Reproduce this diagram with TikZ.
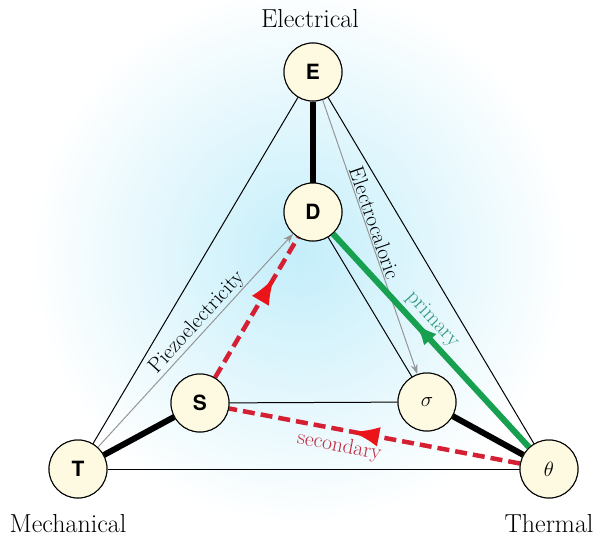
\documentclass[tikz,border=0pt]{standalone}
\usepackage{fontspec}
\newfontfamily\heros{TeX Gyre Heros}
\usetikzlibrary{arrows.meta,decorations.markings}
\definecolor{nodefill}{RGB}{253,250,225}
\definecolor{glow}{RGB}{196,238,250}
\definecolor{redarr}{RGB}{212,32,50}
\definecolor{redhead}{RGB}{235,20,25}
\definecolor{greenarr}{RGB}{22,160,80}
\definecolor{primcol}{RGB}{45,150,125}
\definecolor{seccol}{RGB}{190,40,60}
\definecolor{grayarr}{RGB}{150,150,150}
\begin{document}
\begin{tikzpicture}[x=1pt,y=-1pt,
  vnode/.style={circle,draw=black,line width=1pt,fill=nodefill,minimum size=58pt,inner sep=0pt,font=\heros\bfseries\fontsize{21}{24}\selectfont},
  mnode/.style={vnode,font=\fontsize{21}{24}\selectfont},
  region/.style={font=\fontsize{26}{30}\selectfont},
  edgelab/.style={font=\fontsize{21.5}{25}\selectfont,inner sep=1pt},
  thinline/.style={draw=black,line width=1pt},
  thickline/.style={draw=black,line width=6pt},
  grayarrow/.style={draw=grayarr,line width=1pt,-{Stealth[length=10pt,width=7pt]}},
  redmid/.style={postaction={decorate},decoration={markings,mark=at position #1 with {\arrow{Latex[length=28pt,width=20pt,color=redhead]}}}},
  greenmid/.style={postaction={decorate},decoration={markings,mark=at position #1 with {\arrow{Latex[length=22pt,width=17pt,color=greenarr]}}}},
  reddash/.style={draw=redarr,line width=4.5pt,dash pattern=on 12pt off 6pt},
  greenline/.style={draw=greenarr,line width=6pt}
]
\useasboundingbox (0,0) rectangle (595,538);
\begin{scope}
  \clip (0,0) rectangle (595,538);
  \shade[inner color=glow,outer color=white] (300,255) circle (270);
\end{scope}

% nodes
\node[vnode] (E) at (313,72) {E};
\node[vnode] (D) at (313,212) {D};
\node[vnode] (S) at (200,403) {S};
\node[vnode] (T) at (78,469) {T};
\node[mnode] (sig) at (427,402) {$\sigma$};
\node[mnode] (th) at (549,469) {$\theta$};

% region labels
\node[region] (lE) at (310,19) {Electrical};
\node[region] (lM) at (68,524) {Mechanical};
\node[region] (lT) at (549,524) {Thermal};

% outer triangle
\draw[thinline] (E) -- (T);
\draw[thinline] (E) -- (th);
\draw[thinline] (T) -- (th);
% inner triangle
\draw[thinline] (D) -- (sig);
\draw[thinline] (S) -- (sig);
% thick links
\draw[thickline] (E) -- (D);
\draw[thickline] (T) -- (S);
\draw[thickline] (sig) -- (th);

% gray arrows with labels
\draw[grayarrow] (T) -- (D) node[edgelab,pos=0.55,sloped,above] {Piezoelectricity};
\draw[grayarrow] (E) -- (sig) node[edgelab,pos=0.46,sloped,above] {Electrocaloric};

% primary
\draw[greenline,greenmid=0.58] (th) -- (D);
\path (D) -- (th) node[edgelab,pos=0.45,sloped,above=5pt,text=primcol] {primary};

% secondary
\draw[reddash,redmid=0.58] (th) -- (S);
\path (S) -- (th) node[edgelab,pos=0.39,sloped,below=6pt,text=seccol] {secondary};
\draw[reddash,redmid=0.72] (S) -- (D);

% redraw nodes on top
\node[vnode] at (E) {E};
\node[vnode] at (D) {D};
\node[vnode] at (S) {S};
\node[vnode] at (T) {T};
\node[mnode] at (sig) {$\sigma$};
\node[mnode] at (th) {$\theta$};
\end{tikzpicture}
\end{document}
